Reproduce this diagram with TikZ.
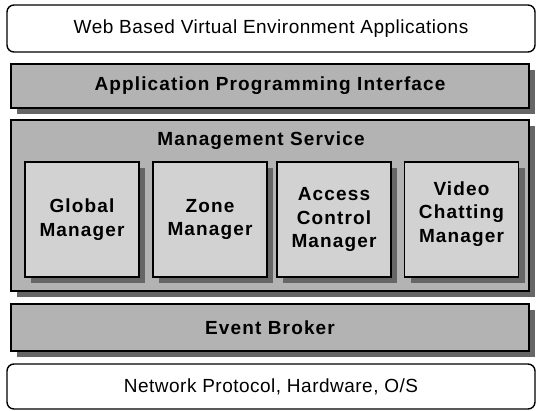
\documentclass[tikz,border=0pt]{standalone}
\usepackage{fontspec}
\setmainfont{Liberation Sans}
\newfontfamily\regf[LetterSpace=2.6]{Liberation Sans}
\newfontfamily\boldf[LetterSpace=6]{Liberation Sans}
\usetikzlibrary{shadows}
\definecolor{boxgray}{HTML}{B3B3B3}
\definecolor{innergray}{HTML}{D2D2D2}
\definecolor{shadowgray}{HTML}{666666}
\tikzset{
  outerbox/.style={draw=black, line width=1.4pt, fill=white, rounded corners=7pt,
    inner sep=0pt, align=center, font=\regf\fontsize{19}{23.5}\selectfont},
  layerbox/.style={draw=black, line width=1.6pt, fill=boxgray, inner sep=0pt,
    align=center, font=\boldf\bfseries\fontsize{19}{23.5}\selectfont,
    drop shadow={shadow xshift=6pt, shadow yshift=-6pt, fill=shadowgray, opacity=1}},
  managerbox/.style={layerbox, fill=innergray, minimum width=114pt, minimum height=115pt},
  titletext/.style={inner sep=0pt, font=\boldf\bfseries\fontsize{19}{23.5}\selectfont}
}
\begin{document}
\begin{tikzpicture}[x=1pt, y=-1pt]
\useasboundingbox (0,0) rectangle (537,410);
\node[outerbox, minimum width=528pt, minimum height=47pt] (apps) at (271,28.5)
  {Web Based Virtual Environment Applications};
\node[layerbox, minimum width=518pt, minimum height=44pt] (api) at (270,86)
  {Application Programming Interface};
\node[layerbox, minimum width=518pt, minimum height=171pt] (mgmt) at (270,205.5) {};
\node[titletext] (mgmttitle) at (261,141) {Management Service};
\node[managerbox] (global) at (82,219.5) {Global\\Manager};
\node[managerbox] (zone) at (210,219.5) {Zone\\Manager};
\node[managerbox] (access) at (334,219.5) {Access\\Control\\Manager};
\node[managerbox] (video) at (461.5,219.5) {};
\node[titletext, align=center] (videotext) at (461.5,214) {Video\\Chatting\\Manager};
\node[layerbox, minimum width=518pt, minimum height=47pt] (broker) at (270,327.5)
  {Event Broker};
\node[outerbox, minimum width=528pt, minimum height=45pt] (net) at (271,386.5)
  {Network Protocol, Hardware, O/S};
\end{tikzpicture}
\end{document}
